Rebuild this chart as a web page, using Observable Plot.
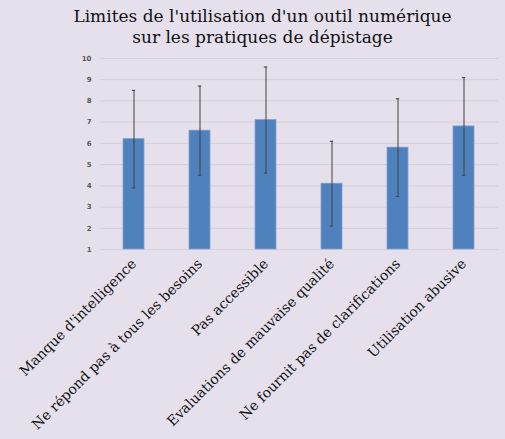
<!DOCTYPE html>
<html>
<head>
<meta charset="utf-8">
<script src="https://cdn.jsdelivr.net/npm/d3@7"></script>
<script src="https://cdn.jsdelivr.net/npm/@observablehq/plot@0.6"></script>
<style>
  html, body { margin: 0; padding: 0; background: #e6e0ec; }
  #title { width: 505px; height: 50px; box-sizing: border-box; padding-top: 6px; text-align: center;
    font-family: "DejaVu Serif", serif; font-size: 17px; line-height: 21px; color: #111; padding-left: 20px; }
  svg { display: block; }
</style>
</head>
<body>
<div id="title">Limites de l'utilisation d'un outil numérique<br>sur les pratiques de dépistage</div>
<div id="chart"></div>
<script>
const categories = ["Manque d'intelligence", "Ne répond pas à tous les besoins", "Pas accessible", "Evaluations de mauvaise qualité", "Ne fournit pas de clarifications", "Utilisation abusive"];
const means = [6.2, 6.6, 7.1, 4.1, 5.8, 6.8];
const errLow = [3.9, 4.5, 4.6, 2.1, 3.5, 4.5];
const errHigh = [8.5, 8.7, 9.6, 6.1, 8.1, 9.1];
const yTicks = [1, 2, 3, 4, 5, 6, 7, 8, 9, 10];

const data = categories.map((c, i) => ({cat: c, mean: means[i], lo: errLow[i], hi: errHigh[i]}));

const plot = Plot.plot({
  width: 505,
  height: 389,
  marginLeft: 100,
  marginRight: 7,
  marginTop: 8,
  marginBottom: 190,
  style: {background: "#e6e0ec", overflow: "visible"},
  x: {domain: categories, paddingInner: 0.68, paddingOuter: 0.34, label: null},
  y: {domain: [1, 10], label: null},
  marks: [
    Plot.gridY(yTicks, {stroke: "#d6d2dc", strokeOpacity: 1, strokeWidth: 1.2}),
    Plot.barY(data, {x: "cat", y1: 1, y2: "mean", fill: "#4f81bd", stroke: "#7fa3d1", strokeWidth: 0.8}),
    Plot.ruleX(data, {x: "cat", y1: "lo", y2: "hi", stroke: "#404040", strokeWidth: 1}),
    Plot.tickY(data, {x: "cat", y: "lo", stroke: "#404040", strokeWidth: 1, inset: 8.8}),
    Plot.tickY(data, {x: "cat", y: "hi", stroke: "#404040", strokeWidth: 1, inset: 8.8}),
    Plot.axisY(yTicks, {tickSize: 0, tickPadding: 9, fontSize: 7, fontWeight: "bold", fill: "#595959", fontFamily: "DejaVu Sans, sans-serif"}),
    Plot.axisX({tickSize: 0, tickRotate: -45, tickPadding: 12, fontSize: 14, fontFamily: "DejaVu Serif, serif", fill: "#111", dx: 0})
  ]
});
document.getElementById("chart").appendChild(plot);
</script>
</body>
</html>
